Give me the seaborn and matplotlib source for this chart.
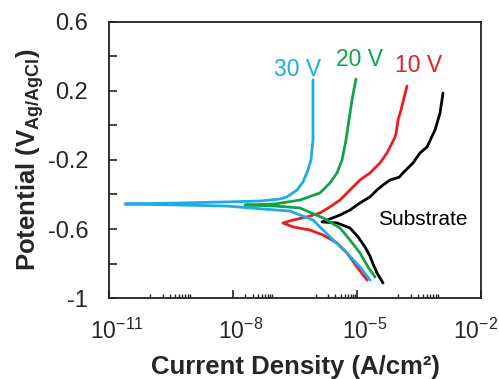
import numpy as np
import pandas as pd
import matplotlib
matplotlib.use("Agg")
import matplotlib.pyplot as plt
import matplotlib.ticker as mticker
import matplotlib.transforms as mtransforms
import seaborn as sns

# Potentiodynamic polarization curves.
# Each series runs from the cathodic branch (bottom) through E_corr to the anodic branch (top).
# log10 of current density in A/cm^2, potential in V vs Ag/AgCl.
sub_logi = [-4.370, -4.516, -4.612, -4.685, -4.806, -4.975, -5.169, -5.483, -5.846,
            -5.653, -5.411, -5.169, -4.927, -4.685, -4.516, -4.370, -4.201, -3.980,
            -3.887, -3.645, -3.475, -3.306, -3.112, -2.991, -2.919]
sub_e = [-0.913, -0.855, -0.803, -0.757, -0.704, -0.646, -0.594, -0.565, -0.559,
         -0.542, -0.519, -0.490, -0.449, -0.414, -0.374, -0.345, -0.316, -0.300,
         -0.275, -0.217, -0.159, -0.125, -0.026, 0.072, 0.188]

v10_logi = [-4.758, -5.000, -5.242, -5.483, -5.822, -6.137, -6.548, -6.790,
            -6.548, -6.209, -5.895, -5.653, -5.411, -5.169, -4.927, -4.685, -4.443,
            -4.274, -4.201, -4.080, -4.050, -4.007, -3.935, -3.790]
v10_e = [-0.896, -0.820, -0.739, -0.681, -0.635, -0.606, -0.588, -0.565,
         -0.548, -0.530, -0.507, -0.472, -0.432, -0.374, -0.316, -0.275, -0.217,
         -0.159, -0.125, -0.067, -0.040, 0.032, 0.090, 0.229]

v20_logi = [-4.564, -4.733, -4.927, -5.169, -5.411, -5.822, -6.379, -6.984, -7.709,
            -6.984, -6.379, -5.895, -5.653, -5.483, -5.362, -5.266, -5.193, -5.121, -5.024]
v20_e = [-0.878, -0.820, -0.739, -0.664, -0.594, -0.536, -0.478, -0.467, -0.461,
         -0.455, -0.432, -0.391, -0.333, -0.275, -0.200, -0.084, 0.032, 0.148, 0.270]

v30_logi = [-4.685, -4.927, -5.242, -5.653, -6.064, -6.621, -7.588, -8.145, -9.282, -10.613,
            -9.282, -8.145, -7.346, -6.863, -6.693, -6.451, -6.306, -6.185, -6.113,
            -6.064, -6.064, -6.064]
v30_e = [-0.896, -0.820, -0.739, -0.646, -0.548, -0.496, -0.478, -0.467, -0.461, -0.455,
         -0.449, -0.443, -0.438, -0.426, -0.414, -0.374, -0.328, -0.258, -0.200,
         -0.084, 0.148, 0.264]

series_names = ["Substrate", "10 V", "20 V", "30 V"]
colors = {"Substrate": "#000000", "10 V": "#ED1C24", "20 V": "#12A24C", "30 V": "#1CADE4"}

frames = []
for name, logi, e in zip(series_names,
                         [sub_logi, v10_logi, v20_logi, v30_logi],
                         [sub_e, v10_e, v20_e, v30_e]):
    frames.append(pd.DataFrame({"current": 10.0 ** np.asarray(logi),
                                "potential": e,
                                "sample": name}))
df = pd.concat(frames, ignore_index=True)

sns.set_style("white")
plt.rcParams.update({
    "font.family": ["Liberation Sans", "DejaVu Sans"],
    "mathtext.fontset": "custom",
    "mathtext.rm": "Liberation Sans",
    "mathtext.it": "Liberation Sans:italic",
    "mathtext.bf": "Liberation Sans:bold",
    "axes.unicode_minus": False,
})

fig = plt.figure(figsize=(4.99, 3.79), dpi=100)
ax = fig.add_axes([0.2184, 0.2137, 0.7455, 0.7283])

sns.lineplot(data=df, x="current", y="potential", hue="sample", hue_order=series_names,
             palette=colors, sort=False, estimator=None, units="sample",
             linewidth=2.0, legend=False, ax=ax)

ax.set_xscale("log")
ax.set_xlim(1e-11, 1e-2)
ax.set_ylim(-1.0, 0.6)

ax.xaxis.set_major_locator(mticker.FixedLocator([1e-11, 1e-8, 1e-5, 1e-2]))
ax.xaxis.set_minor_locator(mticker.FixedLocator(
    [k * 10.0 ** p for p in (-10, -8, -6, -4) for k in range(1, 10)]))
ax.xaxis.set_major_formatter(mticker.FuncFormatter(
    lambda v, _: r"$10^{%d}$" % int(round(np.log10(v)))))
ax.xaxis.set_minor_formatter(mticker.NullFormatter())

ax.yaxis.set_major_locator(mticker.FixedLocator([-1.0, -0.6, -0.2, 0.2, 0.6]))
ax.yaxis.set_minor_locator(mticker.FixedLocator([-0.8, -0.4, 0.0, 0.4]))
ax.yaxis.set_major_formatter(mticker.FuncFormatter(lambda v, _: f"{round(v, 1):g}"))

ax.tick_params(axis="both", which="both", direction="in", bottom=True, left=True,
               top=False, right=False, color="#222222")
ax.tick_params(axis="x", which="major", length=6, width=1.2, pad=15, labelsize=16.5)
ax.tick_params(axis="x", which="minor", length=3, width=1.0)
ax.tick_params(axis="y", which="both", length=6, width=1.2, pad=15, labelsize=17)

for sp in ax.spines.values():
    sp.set_visible(True)
    sp.set_linewidth(1.3)
    sp.set_color("#222222")

ax.set_xlabel("Current Density (A/cm²)", fontsize=18.5, fontweight="bold", labelpad=8)
ax.set_ylabel(r"Potential (V$_{\mathbf{Ag/AgCl}}$)", fontsize=18.5, fontweight="bold")
ax.yaxis.set_label_coords(-0.17, 0.5)

ax.text(0.508, 0.804, "30 V", transform=ax.transAxes, color=colors["30 V"],
        fontsize=16.5, ha="center", va="baseline")
ax.text(0.673, 0.841, "20 V", transform=ax.transAxes, color=colors["20 V"],
        fontsize=16.5, ha="center", va="baseline")
ax.text(0.833, 0.819, "10 V", transform=ax.transAxes, color=colors["10 V"],
        fontsize=16.5, ha="center", va="baseline")
ax.text(0.844, 0.2645, "Substrate", transform=ax.transAxes, color="#000000",
        fontsize=15, ha="center", va="baseline")

# nudge the decade labels right of their ticks; keep the last one inside the figure
fig.canvas.draw()
xlabels = ax.get_xticklabels()
for i, lbl in enumerate(xlabels):
    if i == len(xlabels) - 1:
        lbl.set_horizontalalignment("right")
        dx = 17 / 100
    else:
        dx = 8 / 100
    lbl.set_transform(lbl.get_transform()
                      + mtransforms.ScaledTranslation(dx, 0, fig.dpi_scale_trans))

fig.savefig("out.png", dpi=100)
